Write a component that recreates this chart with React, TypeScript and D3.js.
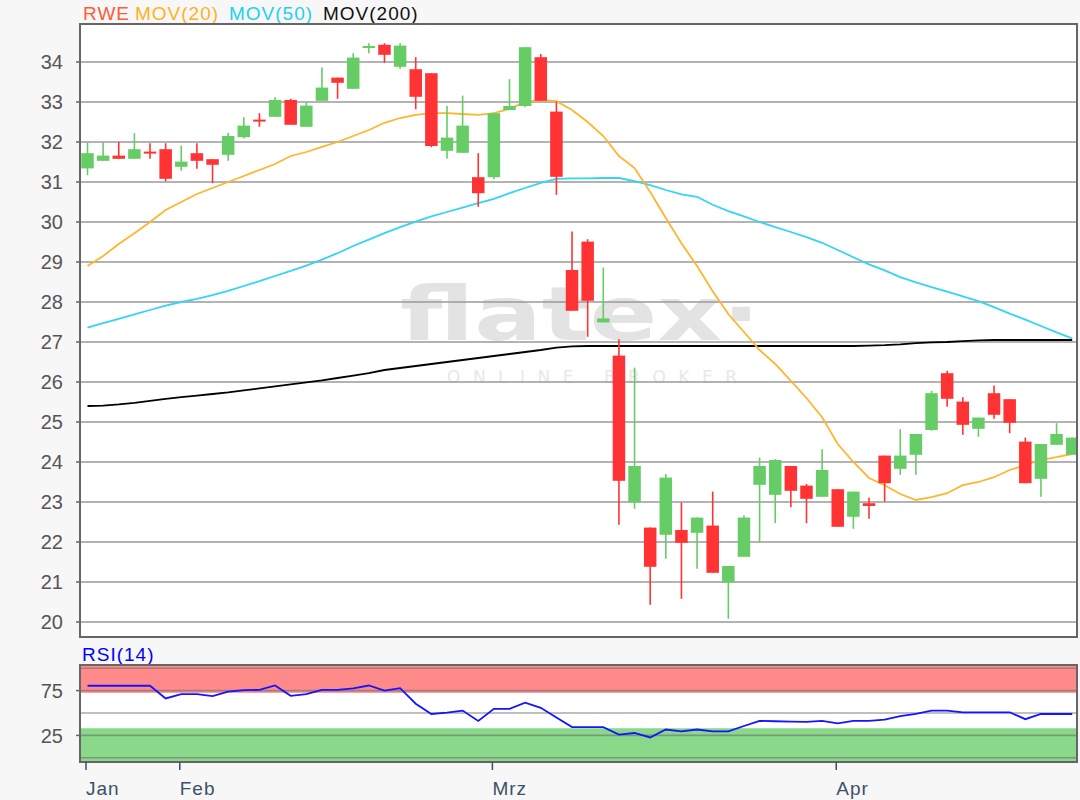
import React from 'react';
import * as d3 from 'd3';

// ---------- data ----------
const opens = [31.34, 31.53, 31.66, 31.58, 31.76, 31.82, 31.38, 31.72, 31.57, 31.68, 32.12, 32.56, 32.63, 33.05, 32.38, 33.03, 33.61, 33.33, 34.36, 34.43, 33.88, 33.82, 33.72, 31.78, 31.73, 31.12, 31.12, 32.8, 32.9, 34.12, 32.76, 28.8, 29.51, 27.49, 26.66, 22.99, 22.36, 22.18, 22.3, 22.23, 22.41, 20.99, 21.63, 23.43, 23.18, 23.9, 23.41, 23.13, 23.32, 22.63, 22.97, 24.16, 23.83, 24.18, 24.8, 26.22, 25.51, 24.83, 25.72, 25.57, 24.51, 23.58, 24.43, 24.18];
const highs = [32.0, 32.0, 32.0, 32.22, 31.97, 31.97, 31.91, 31.97, 31.57, 32.23, 32.62, 32.72, 33.12, 33.08, 33.0, 33.86, 33.61, 34.22, 34.47, 34.47, 34.47, 34.12, 33.72, 32.9, 33.16, 31.72, 32.72, 33.57, 34.37, 34.2, 33.01, 29.76, 29.57, 28.86, 27.07, 26.36, 22.36, 23.7, 22.99, 22.61, 23.26, 21.4, 22.66, 24.11, 24.07, 23.9, 23.45, 24.32, 23.32, 23.26, 23.11, 24.16, 24.82, 24.7, 25.78, 26.28, 25.62, 25.11, 25.91, 25.57, 24.61, 24.45, 24.97, 24.61];
const lows = [31.17, 31.53, 31.58, 31.58, 31.58, 31.02, 31.28, 31.33, 30.97, 31.53, 32.09, 32.38, 32.63, 32.43, 32.38, 33.03, 33.08, 33.33, 34.22, 33.98, 33.83, 32.82, 31.87, 31.58, 31.73, 30.38, 31.07, 32.8, 32.87, 33.03, 30.68, 27.78, 27.13, 27.49, 22.43, 22.83, 20.43, 21.58, 20.58, 21.33, 21.23, 20.08, 21.63, 21.99, 22.47, 22.87, 22.47, 23.13, 22.38, 22.33, 22.58, 23.01, 23.68, 23.68, 24.78, 25.38, 24.68, 24.63, 25.08, 24.72, 23.47, 23.13, 24.43, 24.18];
const closes = [31.72, 31.66, 31.58, 31.82, 31.73, 31.08, 31.51, 31.53, 31.43, 32.15, 32.41, 32.54, 33.05, 32.43, 32.91, 33.36, 33.48, 34.11, 34.4, 34.18, 34.41, 33.13, 31.9, 32.11, 32.41, 30.72, 32.72, 32.9, 34.37, 33.03, 31.13, 27.78, 28.03, 27.59, 23.53, 23.9, 21.38, 23.61, 21.98, 22.61, 21.23, 21.4, 22.61, 23.9, 24.05, 23.28, 23.08, 23.8, 22.38, 23.26, 22.9, 23.47, 24.16, 24.7, 25.72, 25.58, 24.93, 25.11, 25.18, 24.98, 23.47, 24.45, 24.7, 24.61];

const mov20 = [28.9, 29.15, 29.45, 29.72, 30.0, 30.3, 30.5, 30.7, 30.85, 31.0, 31.15, 31.3, 31.45, 31.65, 31.75, 31.88, 32.0, 32.15, 32.3, 32.48, 32.6, 32.68, 32.72, 32.72, 32.7, 32.68, 32.72, 32.83, 33.0, 33.05, 33.02, 32.8, 32.5, 32.15, 31.65, 31.35, 30.75, 30.1, 29.47, 28.9, 28.27, 27.7, 27.25, 26.8, 26.45, 26.03, 25.6, 25.12, 24.45, 24.0, 23.6, 23.42, 23.2, 23.05, 23.12, 23.22, 23.42, 23.5, 23.62, 23.8, 23.92, 24.05, 24.12, 24.2];
const mov50 = [27.36, 27.47, 27.58, 27.69, 27.8, 27.91, 28.0, 28.08, 28.17, 28.28, 28.4, 28.52, 28.65, 28.78, 28.91, 29.06, 29.22, 29.4, 29.56, 29.72, 29.87, 30.01, 30.14, 30.25, 30.36, 30.47, 30.58, 30.72, 30.85, 30.98, 31.08, 31.09, 31.09, 31.1, 31.1, 31.02, 30.92, 30.8, 30.69, 30.63, 30.43, 30.27, 30.14, 30.0, 29.87, 29.75, 29.62, 29.48, 29.3, 29.12, 28.94, 28.79, 28.62, 28.49, 28.37, 28.26, 28.14, 28.02, 27.87, 27.71, 27.56, 27.4, 27.24, 27.09];
const mov200 = [25.4, 25.41, 25.44, 25.48, 25.53, 25.58, 25.62, 25.66, 25.7, 25.74, 25.79, 25.84, 25.89, 25.94, 25.99, 26.04, 26.1, 26.16, 26.22, 26.3, 26.35, 26.4, 26.45, 26.5, 26.55, 26.6, 26.65, 26.7, 26.75, 26.8, 26.86, 26.89, 26.9, 26.9, 26.9, 26.9, 26.9, 26.9, 26.9, 26.9, 26.9, 26.9, 26.9, 26.9, 26.9, 26.9, 26.9, 26.9, 26.9, 26.9, 26.91, 26.92, 26.94, 26.97, 26.99, 27.0, 27.02, 27.04, 27.05, 27.05, 27.05, 27.05, 27.05, 27.05];
const rsi = [80.4, 80.4, 80.4, 80.4, 80.4, 66.2, 71.1, 71.1, 68.9, 73.8, 75.5, 75.8, 80.7, 69.2, 71.1, 75.8, 75.8, 77.5, 80.7, 75.0, 77.7, 60.4, 48.9, 50.5, 52.7, 41.2, 54.6, 54.6, 61.5, 55.8, 45.0, 34.3, 34.3, 34.3, 25.8, 27.7, 22.7, 31.6, 29.6, 31.6, 29.6, 29.6, 35.5, 41.2, 40.8, 40.4, 40.0, 41.2, 38.5, 41.2, 41.2, 42.5, 46.5, 49.0, 52.7, 52.7, 50.8, 50.8, 50.8, 50.8, 43.1, 48.9, 48.9, 48.9];

const priceTicks = [20, 21, 22, 23, 24, 25, 26, 27, 28, 29, 30, 31, 32, 33, 34];
const rsiLabelTicks = [75, 25];
const rsiGridLines = [100, 75, 50, 25, 0];
const rsiBands = [
  { from: 72.5, to: 104, color: '#FF8A8A' },
  { from: -5, to: 33, color: '#8AD88A' },
];
const monthLabels = ['Jan', 'Feb', 'Mrz', 'Apr'];
const monthIndex = [0, 6, 26, 48];
const legendLabels = ['RWE', 'MOV(20)', 'MOV(50)', 'MOV(200)'];
const legendColors = ['#FF5A36', '#FFB21E', '#22D0F0', '#111111'];
const legendX = [83, 135, 229, 323];

// ---------- layout ----------
const W = 1080;
const H = 800;
const L = 80;
const R = 1077;
const mainTop = 24;
const mainBottom = 637;
const rsiTop = 665;
const rsiBottom = 762;
const FONT = '"Liberation Sans", Arial, sans-serif';

export default function App() {
  const n = closes.length;
  const x = d3.scaleLinear().domain([0, n - 1]).range([87.5, 1072.2]);
  const y = d3.scaleLinear().domain([20, 34]).range([622, 62]);
  const ry = d3.scaleLinear().domain([0, 100]).range([757.8, 668.2]);

  const lineOf = (vals: number[], ys: d3.ScaleLinear<number, number>) =>
    d3.line<number>().x((_, i) => x(i)).y((v) => ys(v))(vals) || '';

  const bodyW = 12.5;

  return (
    <svg
      width={W}
      height={H}
      style={{ position: 'fixed', left: 0, top: 0, background: '#F7F7F7' }}
      fontFamily={FONT}
    >
      <defs>
        <clipPath id="mainClip">
          <rect x={L} y={mainTop} width={R - L} height={mainBottom - mainTop} />
        </clipPath>
        <clipPath id="rsiClip">
          <rect x={L} y={rsiTop} width={R - L} height={rsiBottom - rsiTop} />
        </clipPath>
      </defs>
      <rect x={0} y={0} width={W} height={H} fill="#F7F7F7" />

      {/* legend */}
      <text y={20} fontSize={19} letterSpacing={1}>
        {legendLabels.map((t, i) => (
          <tspan key={t} x={legendX[i]} fill={legendColors[i]}>
            {t}
          </tspan>
        ))}
      </text>

      {/* main panel */}
      <rect x={L} y={mainTop} width={R - L} height={mainBottom - mainTop} fill="#FFFFFF" />

      {/* watermark */}
      <g clipPath="url(#mainClip)">
        <text
          x={400}
          y={340}
          fontSize={74}
          fontFamily='"DejaVu Sans", sans-serif'
          fontWeight="bold"
          fill="#E3E3E3"
          textLength={360}
          lengthAdjust="spacingAndGlyphs"
        >
          flatex·
        </text>
        <text
          x={447}
          y={383}
          fontSize={17}
          fontFamily='"DejaVu Sans", sans-serif'
          fill="#E8E8E8"
          textLength={290}
          lengthAdjust="spacing"
        >
          ONLINE BROKER
        </text>
      </g>

      {/* grid */}
      {priceTicks.map((t) => (
        <g key={t}>
          <line x1={L} x2={R} y1={y(t)} y2={y(t)} stroke="#9A9A9A" strokeWidth={1.6} />
          <line x1={L - 4} x2={L} y1={y(t)} y2={y(t)} stroke="#666" strokeWidth={1.5} />
          <text x={63} y={y(t)} dy="0.36em" textAnchor="end" fontSize={20} fill="#555">
            {t}
          </text>
        </g>
      ))}

      <g clipPath="url(#mainClip)">
        {/* moving averages */}
        <path d={lineOf(mov200, y)} fill="none" stroke="#000" strokeWidth={1.8} />
        <path d={lineOf(mov50, y)} fill="none" stroke="#33D4F5" strokeWidth={1.8} />
        <path d={lineOf(mov20, y)} fill="none" stroke="#FFB52E" strokeWidth={1.8} />

        {/* candles */}
        {closes.map((c, i) => {
          const o = opens[i];
          const up = c >= o;
          const col = up ? '#66CC66' : '#FF3333';
          const top = y(Math.max(o, c));
          const bot = y(Math.min(o, c));
          return (
            <g key={i}>
              <line x1={x(i)} x2={x(i)} y1={y(highs[i])} y2={y(lows[i])} stroke={col} strokeWidth={1.6} />
              <rect
                x={x(i) - bodyW / 2}
                y={top}
                width={bodyW}
                height={Math.max(bot - top, 2)}
                fill={col}
              />
            </g>
          );
        })}
      </g>

      {/* main frame */}
      <rect
        x={L}
        y={mainTop}
        width={R - L}
        height={mainBottom - mainTop}
        fill="none"
        stroke="#666"
        strokeWidth={2}
      />

      {/* RSI panel */}
      <text x={82} y={661} fontSize={19} fill="#0000FF" letterSpacing={1}>
        RSI(14)
      </text>
      <rect x={L} y={rsiTop} width={R - L} height={rsiBottom - rsiTop} fill="#FFFFFF" />
      <g clipPath="url(#rsiClip)">
        {rsiBands.map((b, i) => (
          <rect
            key={i}
            x={L}
            width={R - L}
            y={ry(b.to)}
            height={ry(b.from) - ry(b.to)}
            fill={b.color}
          />
        ))}
        {rsiGridLines.map((t) => (
          <line
            key={t}
            x1={L}
            x2={R}
            y1={ry(t)}
            y2={ry(t)}
            stroke="#707070"
            strokeOpacity={0.6}
            strokeWidth={1.6}
          />
        ))}
        <path d={lineOf(rsi, ry)} fill="none" stroke="#1414FF" strokeWidth={1.8} />
      </g>
      {rsiLabelTicks.map((t) => (
        <g key={t}>
          <line x1={L - 4} x2={L} y1={ry(t)} y2={ry(t)} stroke="#666" strokeWidth={1.5} />
          <text x={63} y={ry(t)} dy="0.36em" textAnchor="end" fontSize={20} fill="#555">
            {t}
          </text>
        </g>
      ))}
      <rect
        x={L}
        y={rsiTop}
        width={R - L}
        height={rsiBottom - rsiTop}
        fill="none"
        stroke="#666"
        strokeWidth={2}
      />

      {/* x axis */}
      {monthLabels.map((m, i) => (
        <g key={m}>
          <line
            x1={x(monthIndex[i]) - 1.5}
            x2={x(monthIndex[i]) - 1.5}
            y1={rsiBottom}
            y2={rsiBottom + 8}
            stroke="#3B5168"
            strokeWidth={1.5}
          />
          <text x={x(monthIndex[i]) - 1.5} y={795} fontSize={19} fill="#3B5168" letterSpacing={1}>
            {m}
          </text>
        </g>
      ))}
    </svg>
  );
}
